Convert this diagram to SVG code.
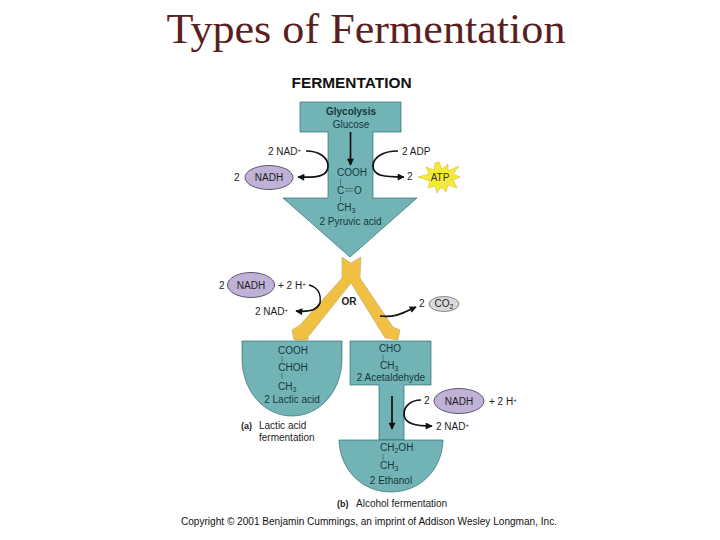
<svg xmlns="http://www.w3.org/2000/svg" width="720" height="540" viewBox="0 0 720 540">
<defs>
<style>
text{font-family:"Liberation Sans",Arial,sans-serif;font-size:10px;fill:#1d1d1d}
.t{fill:#16393c;text-anchor:middle}
.l{fill:#16393c}
.m{text-anchor:middle}
.b{font-weight:bold}
.teal{fill:#72b3b5;stroke:#2f6f74;stroke-width:.7}
.y{fill:#f1c043}
.c{fill:none;stroke:#111;stroke-width:1.7}
.bond{stroke:#3d6d70;stroke-width:.8;fill:none}
.ox{fill:#c0b1d6;stroke:#3c3357;stroke-width:.8}
.s{font-size:7px}
.u{font-size:6px}
</style>
<marker id="a" viewBox="0 0 10 10" refX="9" refY="5" markerWidth="8" markerHeight="7" orient="auto" markerUnits="userSpaceOnUse"><path d="M0 0L10 5L0 10z" fill="#111"/></marker>
</defs>
<rect width="720" height="540" fill="#fff"/>
<text id="title" x="366" y="43" style="font-family:'Liberation Serif','Times New Roman',serif;font-size:43px;fill:#5a1f1f" text-anchor="middle" textLength="399" lengthAdjust="spacingAndGlyphs">Types of Fermentation</text>
<text id="heading" x="351.500" y="88" class="m b" style="font-size:15px;fill:#111" textLength="120" lengthAdjust="spacingAndGlyphs">FERMENTATION</text>

<g id="glycolysis">
<path class="teal" d="M300 102H401V132H373V198H417L350 257L283 198H328V132H300Z"/>
<text x="351" y="114.500" class="t b">Glycolysis</text>
<text x="351" y="128" class="t">Glucose</text>
<text x="337" y="175.500" class="l">COOH</text>
<path class="bond" d="M340.500 179V185M340.500 196V202"/>
<text x="337" y="193.500" class="l">C</text>
<path class="bond" d="M345 188.500H353M345 191H353"/>
<text x="354" y="193.500" class="l">O</text>
<text x="337" y="211" class="l">CH<tspan dy="2" class="s">3</tspan></text>
<text x="350.500" y="225" class="t">2 Pyruvic acid</text>
</g>

<g id="or-split">
<path class="y" style="stroke:#b9ab8a;stroke-width:.6" d="M342 257L351 263L361 257L360 278L393 327L400 330L398 340L385 338L351 283L308 337L308 340L294 340L292 330L300 325L342 278Z"/>
<text x="349" y="304.500" class="m b" style="fill:#222">OR</text>
</g>

<g id="lactic">
<path class="teal" d="M242 341H342V358C342 391 320 416 292 416C264 416 242 391 242 358Z"/>
<text x="293" y="353.500" class="t">COOH</text>
<path class="bond" d="M282 356V362M282 373V379"/>
<text x="293" y="370.500" class="t">CHOH</text>
<text x="278" y="390" class="l">CH<tspan dy="2" class="s">3</tspan></text>
<text x="292" y="402.500" class="t">2 Lactic acid</text>
<text x="241" y="429" class="b" style="font-size:9px">(a)</text>
<text x="259" y="429">Lactic acid</text>
<text x="259" y="441">fermentation</text>
</g>

<g id="acetaldehyde">
<path class="teal" d="M350 341H431V385H404V440H379V385H350Z"/>
<text x="390" y="352" class="t">CHO</text>
<path class="bond" d="M383 355V361"/>
<text x="380" y="369" class="l">CH<tspan dy="2" class="s">3</tspan></text>
<text x="391" y="380.500" class="t">2 Acetaldehyde</text>
</g>

<g id="ethanol">
<path class="teal" d="M339 440H443C442 470 420 492 391 492C362 492 340 470 339 440Z"/>
<text x="380" y="451" class="l">CH<tspan dy="2" class="s">2</tspan><tspan dy="-2">OH</tspan></text>
<path class="bond" d="M383 454V460"/>
<text x="380" y="468.500" class="l">CH<tspan dy="2" class="s">3</tspan></text>
<text x="391" y="484" class="t">2 Ethanol</text>
<text x="337" y="506.500" class="b" style="font-size:9px">(b)</text>
<text x="356" y="506.500">Alcohol fermentation</text>
</g>

<g id="nadh-top">
<text x="234" y="181">2</text>
<ellipse class="ox" cx="269" cy="177.500" rx="24" ry="12"/>
<text x="269" y="181" class="m">NADH</text>
</g>
<g id="nad-top"><text x="268" y="155">2 NAD<tspan dy="-3" class="u">+</tspan></text></g>
<g id="adp"><text x="402" y="155">2 ADP</text></g>
<g id="atp">
<text x="407" y="180">2</text>
<path d="M439 162L442 169L448 164L448 171L459 166L453 174L460 177L453 180L457 188L448 185L446 192L441 187L437 193L435 186L428 188L430 181L418 177L429 174L426 167L434 170L435 163Z" fill="#f5ea3a" stroke="#cdb31e" stroke-width=".5"/>
<text x="440" y="180.500" class="m" style="fill:#333">ATP</text>
</g>
<g id="nadh-mid">
<text x="219" y="289">2</text>
<ellipse class="ox" cx="251" cy="285" rx="23.500" ry="12.500"/>
<text x="251" y="289" class="m">NADH</text>
<text x="278" y="289">+ 2 H<tspan dy="-3" class="u">+</tspan></text>
</g>
<g id="nad-mid"><text x="255" y="315">2 NAD<tspan dy="-3" class="u">+</tspan></text></g>
<g id="co2">
<text x="419" y="307">2</text>
<ellipse cx="444" cy="304" rx="15" ry="7.500" fill="#d9d9d9" stroke="#444" stroke-width=".6"/>
<text x="444" y="307" class="m">CO<tspan dy="2" class="s">2</tspan></text>
</g>
<g id="nadh-low">
<text x="424" y="404">2</text>
<ellipse class="ox" cx="459" cy="401" rx="25" ry="12.500"/>
<text x="459" y="404.500" class="m">NADH</text>
<text x="489" y="404.500">+ 2 H<tspan dy="-3" class="u">+</tspan></text>
</g>
<g id="nad-low"><text x="436" y="430">2 NAD<tspan dy="-3" class="u">+</tspan></text></g>
<text id="copyright" x="369" y="524.500" class="m" style="fill:#111" textLength="376" lengthAdjust="spacingAndGlyphs">Copyright © 2001 Benjamin Cummings, an imprint of Addison Wesley Longman, Inc.</text>

<g id="connectors">
<path class="c" marker-end="url(#a)" d="M350.500 132V165"/>
<path class="c" marker-end="url(#a)" d="M306 151C320 151 328 158 328 166C328 176 318 178 298 177"/>
<path class="c" marker-end="url(#a)" d="M398 151C382 151 373 158 373 166C373 176 384 177 404 177"/>
<path class="c" marker-end="url(#a)" d="M309 285C320 288 321 297 320 303C317 311 306 312 296 311"/>
<path class="c" marker-end="url(#a)" d="M380 316C395 318 403 313 416 307"/>
<path class="c" marker-end="url(#a)" d="M392 396V429"/>
<path class="c" marker-end="url(#a)" d="M421 400C410 400 404 407 404 414C404 424 416 426 432 426"/>
</g>
</svg>
